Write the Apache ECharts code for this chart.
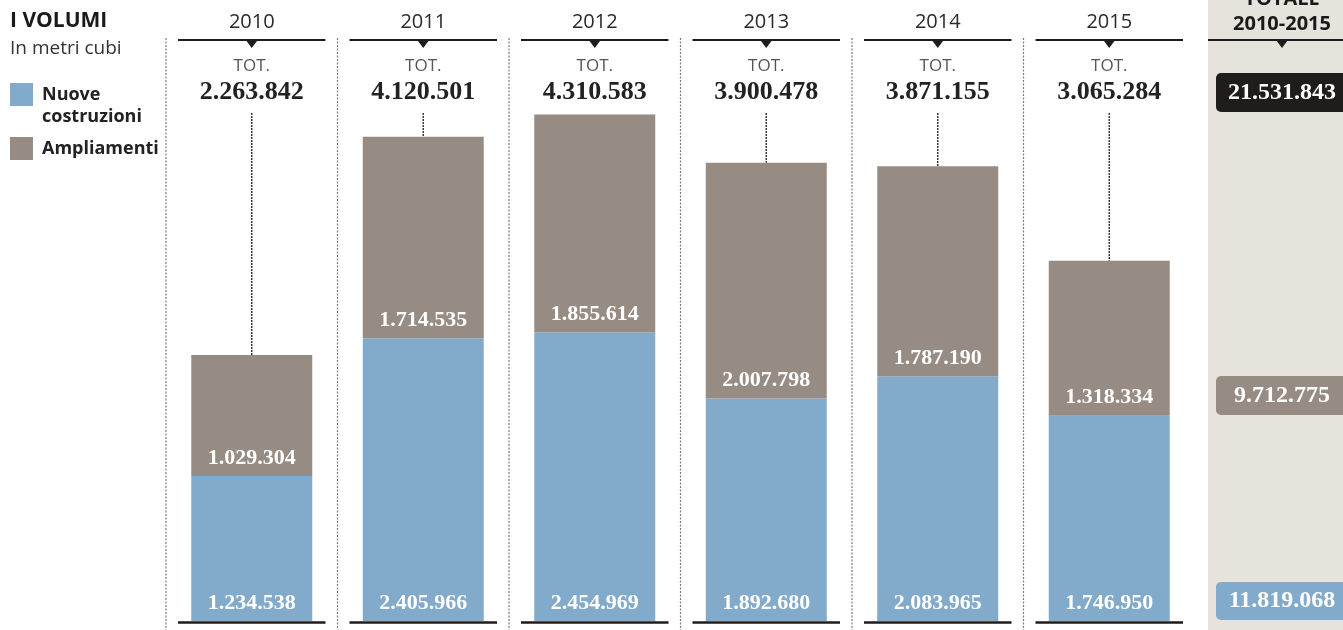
<!DOCTYPE html>
<html>
<head>
<meta charset="utf-8">
<script src="https://cdn.jsdelivr.net/npm/echarts@6/dist/echarts.min.js"></script>
<style>
  html, body { margin: 0; padding: 0; background: #ffffff; }
  #chart { width: 1343px; height: 630px; }
</style>
</head>
<body>
<div id="chart"></div>
<script>
// ---- data ----
const years = ['2010', '2011', '2012', '2013', '2014', '2015'];
const nuoveCostruzioni = [1234538, 2405966, 2454969, 1892680, 2083965, 1746950];
const ampliamenti = [1029304, 1714535, 1855614, 2007798, 1787190, 1318334];
const totali = [2263842, 4120501, 4310583, 3900478, 3871155, 3065284];
const totaleLabel = 'TOTALE';
const periodoLabel = '2010-2015';
const totaleGenerale = 21531843;
const totaleAmpliamenti = 9712775;
const totaleNuove = 11819068;

// ---- style ----
const BLUE = '#82aacb';
const GREY = '#978c83';
const DARK = '#1f1c1b';
const PANEL = '#e6e3dd';
const SANS = '"Open Sans", "Noto Sans", sans-serif';
const SERIF = '"Liberation Serif", "DejaVu Serif", serif';

function fmt(n) {
  return String(n).replace(/\B(?=(\d{3})+(?!\d))/g, '.');
}

const chart = echarts.init(document.getElementById('chart'), null, { renderer: 'canvas' });

const barLabel = {
  show: true,
  position: 'insideBottom',
  distance: 7,
  color: '#ffffff',
  fontFamily: SERIF,
  fontWeight: 'bold',
  fontSize: 22,
  formatter: p => fmt(p.value)
};

function renderHeader(params, api) {
  const idx = api.value(0);
  const total = api.value(1);
  const base = api.coord([idx, 0]);
  const top = api.coord([idx, total]);
  const cx = base[0];
  const bw = api.size([1, 0])[0];
  const left = cx - bw / 2;
  const right = cx + bw / 2;
  const children = [];
  // column separator (dotted) on the left of each column
  children.push({
    type: 'line',
    shape: { x1: left, y1: 38, x2: left, y2: 630 },
    style: { stroke: '#7a7a7a', lineWidth: 1.2, lineDash: [2, 1.5] }
  });
  // year
  children.push({
    type: 'text',
    style: { text: years[idx], x: cx, y: 22, align: 'center', verticalAlign: 'middle',
      fontFamily: SANS, fontSize: 20, fill: '#2a2a2a' }
  });
  // header line + triangle
  children.push({
    type: 'line',
    shape: { x1: left + 12, y1: 40, x2: right - 12, y2: 40 },
    style: { stroke: DARK, lineWidth: 2 }
  });
  children.push({
    type: 'polygon',
    shape: { points: [[cx - 6, 40], [cx + 6, 40], [cx, 48]] },
    style: { fill: DARK }
  });
  // TOT.
  children.push({
    type: 'text',
    style: { text: 'TOT.', x: cx, y: 66, align: 'center', verticalAlign: 'middle',
      fontFamily: SANS, fontSize: 17, fill: '#555555' }
  });
  children.push({
    type: 'text',
    style: { text: fmt(total), x: cx, y: 92, align: 'center', verticalAlign: 'middle',
      fontFamily: SERIF, fontWeight: 'bold', fontSize: 26, fill: '#222222' }
  });
  // dotted line from total label down to bar top
  if (top[1] > 117) {
    children.push({
      type: 'line',
      shape: { x1: cx, y1: 113, x2: cx, y2: top[1] },
      style: { stroke: '#3a3a3a', lineWidth: 1.5, lineDash: [2, 1] }
    });
  }
  // baseline
  children.push({
    type: 'line',
    shape: { x1: left + 12, y1: base[1] + 1.5, x2: right - 12, y2: base[1] + 1.5 },
    style: { stroke: DARK, lineWidth: 2.5 }
  });
  return { type: 'group', children: children };
}

function badge(y, h, fill, value) {
  return [
    { type: 'rect', shape: { x: 1216, y: y, width: 140, height: h, r: 5 }, style: { fill: fill } },
    { type: 'text', style: { text: fmt(value), x: 1282, y: y + h / 2, align: 'center', verticalAlign: 'middle',
        fontFamily: SERIF, fontWeight: 'bold', fontSize: 24, fill: '#ffffff' } }
  ];
}

const graphics = [
  // title block
  { type: 'text', style: { text: 'I VOLUMI', x: 10, y: 21, align: 'left', verticalAlign: 'middle',
      fontFamily: SANS, fontWeight: 'bold', fontSize: 21, fill: '#1a1a1a' } },
  { type: 'text', style: { text: 'In metri cubi', x: 10, y: 49, align: 'left', verticalAlign: 'middle',
      fontFamily: SANS, fontSize: 19, fill: '#333333' } },
  // legend
  { type: 'rect', shape: { x: 10, y: 83, width: 23, height: 23 }, style: { fill: BLUE } },
  { type: 'text', style: { text: 'Nuove', x: 42, y: 95, align: 'left', verticalAlign: 'middle',
      fontFamily: SANS, fontWeight: 'bold', fontSize: 18, fill: '#222222' } },
  { type: 'text', style: { text: 'costruzioni', x: 42, y: 117, align: 'left', verticalAlign: 'middle',
      fontFamily: SANS, fontWeight: 'bold', fontSize: 18, fill: '#222222' } },
  { type: 'rect', shape: { x: 10, y: 137, width: 23, height: 23 }, style: { fill: GREY } },
  { type: 'text', style: { text: 'Ampliamenti', x: 42, y: 149, align: 'left', verticalAlign: 'middle',
      fontFamily: SANS, fontWeight: 'bold', fontSize: 18, fill: '#222222' } },
  // right panel
  { type: 'rect', shape: { x: 1208, y: 0, width: 140, height: 630 }, style: { fill: PANEL } },
  { type: 'text', style: { text: totaleLabel, x: 1282, y: -1, align: 'center', verticalAlign: 'middle',
      fontFamily: SANS, fontWeight: 'bold', fontSize: 20, fill: '#1a1a1a' } },
  { type: 'text', style: { text: periodoLabel, x: 1282, y: 24, align: 'center', verticalAlign: 'middle',
      fontFamily: SANS, fontWeight: 'bold', fontSize: 20, fill: '#1a1a1a' } },
  { type: 'line', shape: { x1: 1208, y1: 40, x2: 1343, y2: 40 }, style: { stroke: DARK, lineWidth: 2 } },
  { type: 'polygon', shape: { points: [[1276, 40], [1288, 40], [1282, 48]] }, style: { fill: DARK } }
].concat(badge(73, 39, DARK, totaleGenerale))
 .concat(badge(376, 39, GREY, totaleAmpliamenti))
 .concat(badge(582, 38, BLUE, totaleNuove));

const option = {
  backgroundColor: '#ffffff',
  animation: false,
  grid: { left: 166, right: 148, top: 33.5, bottom: 9, containLabel: false },
  xAxis: {
    type: 'category',
    data: years,
    axisLine: { show: false },
    axisTick: { show: false },
    axisLabel: { show: false },
    splitLine: { show: false }
  },
  yAxis: {
    type: 'value',
    min: 0,
    max: 5000000,
    show: false,
    splitLine: { show: false }
  },
  series: [
    {
      name: 'Nuove costruzioni',
      type: 'bar',
      stack: 'vol',
      barWidth: 121,
      data: nuoveCostruzioni,
      itemStyle: { color: BLUE },
      label: barLabel
    },
    {
      name: 'Ampliamenti',
      type: 'bar',
      stack: 'vol',
      barWidth: 121,
      data: ampliamenti,
      itemStyle: { color: GREY },
      label: barLabel
    },
    {
      name: 'Totale',
      type: 'custom',
      clip: false,
      silent: true,
      z: 1,
      data: totali.map((t, i) => [i, t]),
      encode: { x: 0, y: 1 },
      renderItem: renderHeader
    }
  ],
  graphic: { elements: graphics }
};

chart.setOption(option);
</script>
</body>
</html>
